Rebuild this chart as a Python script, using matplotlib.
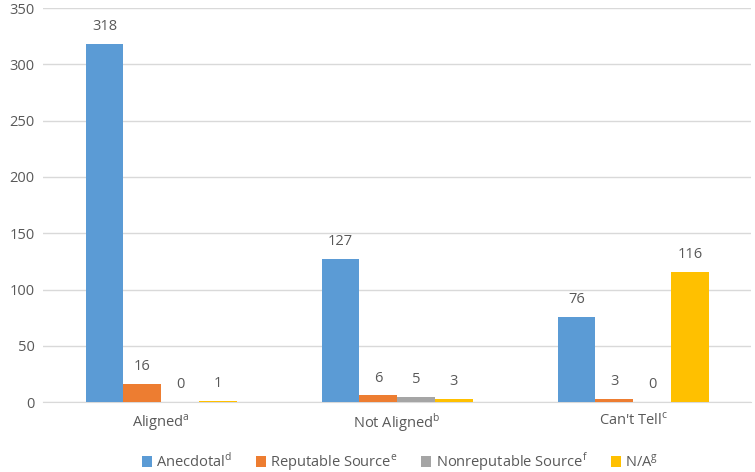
import numpy as np
import matplotlib.pyplot as plt

plt.rcParams['font.family'] = ['Open Sans', 'DejaVu Sans']
plt.rcParams['mathtext.fontset'] = 'custom'
plt.rcParams['mathtext.rm'] = 'Open Sans'

categories = [r'Aligned$^{\mathregular{a}}$', r'Not Aligned$^{\mathregular{b}}$', r"Can't Tell$^{\mathregular{c}}$"]
series_names = [r'Anecdotal$^{\mathregular{d}}$', r'Reputable Source$^{\mathregular{e}}$',
                r'Nonreputable Source$^{\mathregular{f}}$', r'N/A$^{\mathregular{g}}$']
anecdotal = [318, 127, 76]
reputable = [16, 6, 3]
nonreputable = [0, 5, 0]
na = [1, 3, 116]
colors = ['#5B9BD5', '#ED7D31', '#A5A5A5', '#FFC000']

text_color = '#595959'
grid_color = '#D9D9D9'
fs = 10.5

fig = plt.figure(figsize=(7.55, 4.72), dpi=100)
ax = fig.add_axes([0.057, 0.148, 0.938, 0.835])

x = np.arange(len(categories))
width = 0.16
all_series = [anecdotal, reputable, nonreputable, na]
for i, (vals, name, c) in enumerate(zip(all_series, series_names, colors)):
    pos = x + (i - 1.5) * width
    bars = ax.bar(pos, vals, width, color=c, label=name, zorder=3)
    for b, v in zip(bars, vals):
        ax.annotate(str(v), (b.get_x() + b.get_width() / 2, v), xytext=(0, 7),
                    textcoords='offset points', ha='center', va='bottom',
                    fontsize=fs, color=text_color)

ax.set_xlim(-0.5, 2.5)
ax.set_ylim(0, 350)
ax.set_yticks(range(0, 351, 50))
ax.set_xticks(x)
ax.set_xticklabels(categories)
ax.yaxis.grid(True, color=grid_color, linewidth=1, zorder=0)
for s in ['top', 'right', 'left']:
    ax.spines[s].set_visible(False)
ax.spines['bottom'].set_color(grid_color)
ax.tick_params(axis='both', length=0, labelsize=fs, labelcolor=text_color)
ax.tick_params(axis='x', pad=7)
ax.tick_params(axis='y', pad=6)

fig.legend(loc='center', bbox_to_anchor=(0.53, 0.022), ncol=4, frameon=False,
           fontsize=fs, labelcolor=text_color, handlelength=0.7, handleheight=0.7,
           handletextpad=0.3, columnspacing=1.6)

fig.savefig('out.png', dpi=100)
